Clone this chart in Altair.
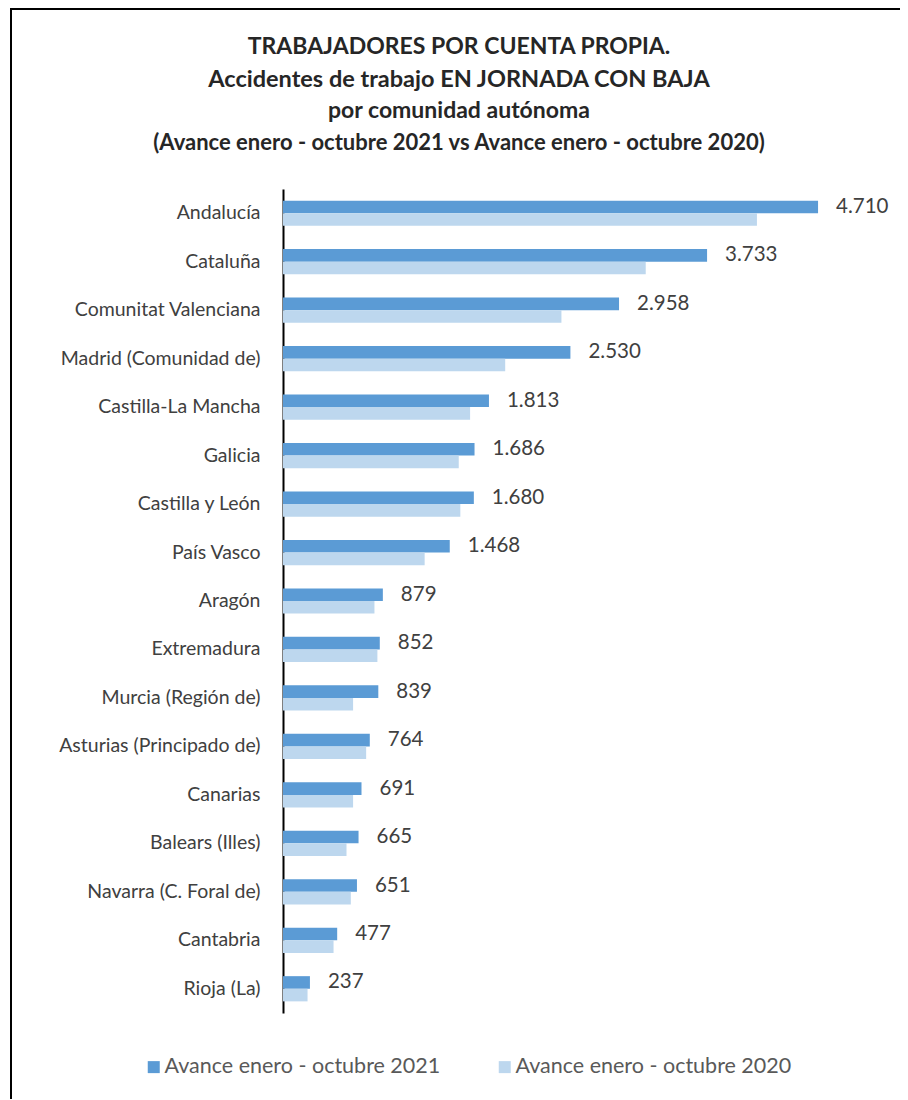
import altair as alt
import pandas as pd

categories = [
    "Andalucía", "Cataluña", "Comunitat Valenciana", "Madrid (Comunidad de)",
    "Castilla-La Mancha", "Galicia", "Castilla y León", "País Vasco", "Aragón",
    "Extremadura", "Murcia (Región de)", "Asturias (Principado de)", "Canarias",
    "Balears (Illes)", "Navarra (C. Foral de)", "Cantabria", "Rioja (La)",
]
v2021 = [4710, 3733, 2958, 2530, 1813, 1686, 1680, 1468, 879, 852, 839, 764, 691, 665, 651, 477, 237]
v2020 = [4172, 3193, 2451, 1956, 1647, 1547, 1561, 1247, 805, 831, 617, 732, 617, 559, 597, 445, 216]
series = ["Avance enero - octubre 2021", "Avance enero - octubre 2020"]
colors = ["#5B9BD5", "#BDD7EE"]

title_lines = [
    "TRABAJADORES POR CUENTA PROPIA.",
    "Accidentes de trabajo EN JORNADA CON BAJA",
    "por comunidad autónoma",
    "(Avance enero - octubre 2021 vs Avance enero - octubre 2020)",
]

df = pd.DataFrame({"cat": categories, series[0]: v2021, series[1]: v2020})
long = df.melt(id_vars="cat", var_name="serie", value_name="valor")

FONT = "Lato"

base = alt.Chart(long)

bars = base.mark_bar().encode(
    y=alt.Y("cat:N", sort=categories, title=None,
            scale=alt.Scale(paddingInner=0.48, paddingOuter=0.24),
            axis=alt.Axis(domainColor="#000000", domainWidth=2, ticks=False,
                          labelFontSize=19.5, labelColor="#404040", labelFont=FONT,
                          labelPadding=23, labelLimit=300)),
    yOffset=alt.YOffset("serie:N", sort=series,
                        scale=alt.Scale(paddingInner=0, paddingOuter=0)),
    x=alt.X("valor:Q", axis=None, scale=alt.Scale(domain=[0, 5000])),
    color=alt.Color("serie:N", sort=series,
                    scale=alt.Scale(domain=series, range=colors),
                    legend=alt.Legend(title=None, orient="none", direction="horizontal",
                                      legendX=-140, legendY=867,
                                      symbolType="square", symbolSize=144,
                                      symbolStrokeWidth=0,
                                      labelFontSize=21.5, labelColor="#595959",
                                      labelFont=FONT, labelOffset=0,
                                      columnPadding=53, padding=0, labelLimit=400)),
)

labels = base.transform_filter(
    alt.datum.serie == series[0]
).transform_calculate(
    lbl="replace(format(datum.valor, ','), ',', '.')"
).mark_text(align="left", baseline="middle", dx=18, fontSize=20.5,
            color="#404040", font=FONT).encode(
    y=alt.Y("cat:N", sort=categories),
    yOffset=alt.YOffset("serie:N", sort=series),
    x=alt.X("valor:Q"),
    text="lbl:N",
)

border = alt.Chart(pd.DataFrame({"a": [0]})).mark_rect(
    fill=None, stroke="#000000", strokeWidth=2
).encode(
    x=alt.value(-272), x2=alt.value(660),
    y=alt.value(-180), y2=alt.value(960),
)

title_y = [-142, -109, -78, -46]
title_size = [23, 23.5, 23, 22]
title_layers = []
for i, t in enumerate(title_lines):
    title_layers.append(
        alt.Chart(pd.DataFrame({"t": [t]})).mark_text(
            font=FONT, fontSize=title_size[i], fontWeight="bold",
            color="#262626", align="center", baseline="middle",
        ).encode(x=alt.value(176), y=alt.value(title_y[i]), text="t:N")
    )

chart = alt.layer(border, bars, labels, *title_layers).properties(
    width=568, height=824,
    padding={"left": 275, "top": 181, "right": 49, "bottom": 86},
    autosize=alt.AutoSizeParams(type="none"),
).configure_view(stroke=None)

chart.save("out.html", embed_options={"renderer": "svg", "actions": False})
